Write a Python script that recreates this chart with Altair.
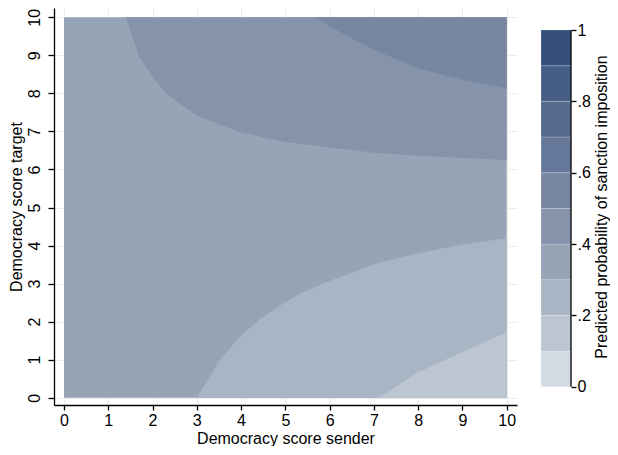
import altair as alt
import pandas as pd

FONT = "Liberation Sans"

# contour levels and their fill colours (0-.1 ... .9-1)
levels = [0.0, 0.1, 0.2, 0.3, 0.4, 0.5, 0.6, 0.7, 0.8, 0.9]
level_colors = ["#d3dae3", "#bcc6d1", "#a9b5c4", "#97a4b6", "#8694ab",
                "#7787a1", "#667899", "#566a8f", "#465d86", "#35507d"]

# boundary of the .4 contour (upper region)
b40_x = [1.40, 1.70, 2.03, 2.32, 3.00, 3.98, 4.99, 6.00, 7.00, 8.00, 9.00, 10.00]
b40_y = [10.0, 8.96, 8.38, 7.98, 7.41, 6.98, 6.72, 6.58, 6.44, 6.36, 6.30, 6.25]
# boundary of the .5 contour (top right)
b50_x = [5.71, 6.08, 7.00, 8.00, 9.00, 10.00]
b50_y = [10.0, 9.71, 9.14, 8.66, 8.35, 8.13]
# boundary of the .3 contour (lower region)
b30_x = [3.00, 3.52, 3.98, 4.43, 5.00, 5.33, 5.78, 6.00, 7.00, 8.00, 9.00, 10.00]
b30_y = [0.00, 0.99, 1.60, 2.07, 2.51, 2.73, 2.96, 3.07, 3.51, 3.80, 4.03, 4.19]
# boundary of the .2 contour (bottom right)
b20_x = [7.10, 8.00, 9.00, 10.00]
b20_y = [0.00, 0.67, 1.20, 1.72]

ticks = list(range(0, 11))

xs = alt.Scale(domain=[-0.226, 10.233], nice=False, zero=False)
ys = alt.Scale(domain=[-0.192, 10.245], nice=False, zero=False)

x_axis = alt.Axis(values=ticks, title="Democracy score sender", grid=True,
                  labelPadding=2, titlePadding=2, labelAngle=0, tickSize=5)
y_axis = alt.Axis(values=ticks, title="Democracy score target", grid=True,
                  labelAngle=270, labelAlign="center", labelBaseline="bottom",
                  labelPadding=6, titlePadding=2, tickSize=6)


def X(f):
    return alt.X(f, scale=xs, axis=x_axis)


def Y(f):
    return alt.Y(f, scale=ys, axis=y_axis)


base_df = pd.DataFrame({"x": [0], "x2": [10], "y": [0], "y2": [10]})
base = alt.Chart(base_df).mark_rect(color=level_colors[3]).encode(
    x=X("x:Q"), x2="x2:Q", y=Y("y:Q"), y2="y2:Q")


def upper_area(xv, yv, color):
    df = pd.DataFrame({"x": xv, "y": yv, "top": [10] * len(xv)})
    return alt.Chart(df).mark_area(color=color, interpolate="linear").encode(
        x=X("x:Q"), y=Y("y:Q"), y2="top:Q")


def lower_area(xv, yv, color):
    df = pd.DataFrame({"x": xv, "y": yv, "bot": [0] * len(xv)})
    return alt.Chart(df).mark_area(color=color, interpolate="linear").encode(
        x=X("x:Q"), y=Y("bot:Q"), y2="y:Q")


main = alt.layer(
    base,
    upper_area(b40_x, b40_y, level_colors[4]),
    upper_area(b50_x, b50_y, level_colors[5]),
    lower_area(b30_x, b30_y, level_colors[2]),
    lower_area(b20_x, b20_y, level_colors[1]),
).properties(width=463, height=397)

leg_df = pd.DataFrame({
    "lo": levels,
    "hi": [round(v + 0.1, 2) for v in levels],
    "c0": [0] * len(levels),
    "c1": [1] * len(levels),
    "color": level_colors,
})
leg_x = alt.Scale(domain=[0, 1], nice=False, zero=False)
leg_y = alt.Scale(domain=[-0.0513, 1.0617], nice=False, zero=False)
leg_axis = alt.Axis(
    orient="right", values=[0, 0.2, 0.4, 0.6, 0.8, 1], domain=False, grid=False,
    labelExpr="datum.value == 0 ? '0' : datum.value == 1 ? '1' : replace(format(datum.value, '.1f'), '0.', '.')",
    labelPadding=1, labelAlign="left", labelBaseline="middle", tickSize=5,
    title="Predicted probability of sanction imposition", titleAngle=270,
    titleBaseline="top", titleAlign="center", titlePadding=3, titleFontSize=16,
)
leg_rect = alt.Chart(leg_df).mark_rect(stroke="#ffffff", strokeWidth=0.6, strokeOpacity=0.35).encode(
    x=alt.X("c0:Q", scale=leg_x, axis=None), x2="c1:Q",
    y=alt.Y("lo:Q", scale=leg_y, axis=leg_axis), y2="hi:Q",
    color=alt.Color("color:N", scale=None),
)
rule_df = pd.DataFrame({"c1": [1], "lo": [0.0], "hi": [1.0]})
leg_rule = alt.Chart(rule_df).mark_rule(color="black", strokeWidth=1.3).encode(
    x=alt.X("c1:Q", scale=leg_x, axis=None),
    y=alt.Y("lo:Q", scale=leg_y, axis=leg_axis), y2="hi:Q",
)
legend = alt.layer(leg_rect, leg_rule).properties(width=30, height=397)

chart = alt.hconcat(main, legend, spacing=23).properties(
    padding={"left": 0, "top": 0, "right": 0, "bottom": 0}
).configure_view(stroke=None).configure_axis(
    labelFont=FONT, titleFont=FONT, labelFontSize=16, titleFontSize=16,
    labelColor="black", titleColor="black", titleFontWeight="normal",
    domainColor="black", tickColor="black", domainWidth=1.3, tickWidth=1.3,
    gridColor="#ececec", gridWidth=1,
)

chart.save("out.html", embed_options={"renderer": "svg", "actions": False})
